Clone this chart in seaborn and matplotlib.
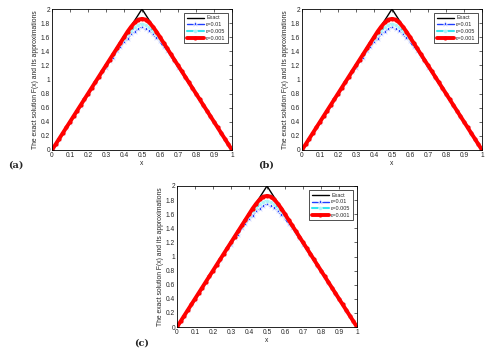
from typing import List

import matplotlib
matplotlib.use("Agg")
import matplotlib.pyplot as plt
import seaborn as sns
from matplotlib.ticker import FuncFormatter, MultipleLocator
from pandas import DataFrame

##########
## Data ##
##########

x_exact = [0.0, 0.5, 1.0]
f_exact = [0.0, 2.0, 0.0]

x_grid = [0.00, 0.02, 0.04, 0.06, 0.08, 0.10, 0.12, 0.14, 0.16, 0.18,
          0.20, 0.22, 0.24, 0.26, 0.28, 0.30, 0.32, 0.34, 0.36, 0.38,
          0.40, 0.42, 0.44, 0.46, 0.48, 0.50, 0.52, 0.54, 0.56, 0.58,
          0.60, 0.62, 0.64, 0.66, 0.68, 0.70, 0.72, 0.74, 0.76, 0.78,
          0.80, 0.82, 0.84, 0.86, 0.88, 0.90, 0.92, 0.94, 0.96, 0.98, 1.00]

f_eps_01 = [0.00, 0.08, 0.15, 0.24, 0.31, 0.39, 0.48, 0.55, 0.63, 0.72,
            0.79, 0.88, 0.95, 1.03, 1.11, 1.17, 1.26, 1.31, 1.40, 1.46,
            1.53, 1.58, 1.64, 1.68, 1.72, 1.74, 1.71, 1.69, 1.64, 1.59,
            1.54, 1.46, 1.41, 1.33, 1.26, 1.17, 1.10, 1.02, 0.95, 0.87,
            0.79, 0.71, 0.63, 0.55, 0.47, 0.40, 0.32, 0.23, 0.16, 0.08, 0.00]

f_eps_005 = [0.00, 0.08, 0.16, 0.24, 0.32, 0.40, 0.48, 0.56, 0.64, 0.72,
             0.80, 0.88, 0.96, 1.04, 1.12, 1.19, 1.27, 1.35, 1.43, 1.51,
             1.58, 1.64, 1.69, 1.74, 1.77, 1.79, 1.77, 1.74, 1.69, 1.64,
             1.58, 1.51, 1.43, 1.35, 1.27, 1.19, 1.12, 1.04, 0.96, 0.88,
             0.80, 0.72, 0.64, 0.56, 0.48, 0.40, 0.32, 0.24, 0.16, 0.08, 0.00]

f_eps_001 = [0.00, 0.08, 0.16, 0.24, 0.32, 0.40, 0.48, 0.56, 0.64, 0.72,
             0.80, 0.88, 0.96, 1.04, 1.12, 1.20, 1.28, 1.36, 1.44, 1.52,
             1.60, 1.68, 1.75, 1.81, 1.85, 1.86, 1.85, 1.81, 1.75, 1.68,
             1.60, 1.52, 1.44, 1.36, 1.28, 1.20, 1.12, 1.04, 0.96, 0.88,
             0.80, 0.72, 0.64, 0.56, 0.48, 0.40, 0.32, 0.24, 0.16, 0.08, 0.00]

series_labels = ["Exact", "\u03b5=0.01", "\u03b5=0.005", "\u03b5=0.001"]
panel_labels = ["(a)", "(b)", "(c)"]

#############
## Drawing ##
#############

sns.set_style("white")
plt.rcParams["font.family"] = ["Liberation Sans", "DejaVu Sans"]

W, H = 493, 355


def draw_panel(ax, labels: List[str]):
    exact_df = DataFrame({"x": x_exact, "F": f_exact})
    approx_df = DataFrame({"x": x_grid, "e01": f_eps_01,
                           "e005": f_eps_005, "e001": f_eps_001})

    sns.lineplot(data=exact_df, x="x", y="F", ax=ax, color="black",
                 lw=1.0, label=labels[0])
    sns.lineplot(data=approx_df, x="x", y="e01", ax=ax, color="#1f3fff",
                 lw=1.0, marker="*", markersize=4.2, markeredgewidth=0.5,
                 label=labels[1])
    sns.lineplot(data=approx_df, x="x", y="e005", ax=ax, color="#33e6f2",
                 lw=1.5, marker="o", markersize=2.8, markeredgewidth=0.3,
                 markerfacecolor="#aaf5f8", label=labels[2])
    sns.lineplot(data=approx_df, x="x", y="e001", ax=ax, color="#ff0000",
                 lw=2.8, marker="o", markersize=3.0, markeredgewidth=0,
                 label=labels[3])

    ax.set_xlim(0, 1)
    ax.set_ylim(0, 2)
    ax.xaxis.set_major_locator(MultipleLocator(0.1))
    ax.yaxis.set_major_locator(MultipleLocator(0.2))
    fmt = FuncFormatter(lambda v, _: f"{v:g}")
    ax.xaxis.set_major_formatter(fmt)
    ax.yaxis.set_major_formatter(fmt)
    ax.tick_params(direction="in", length=2, width=0.5, labelsize=4.8,
                   pad=1.5, top=True, right=True)
    ax.set_xlabel("x", fontsize=4.8, labelpad=1)
    ax.set_ylabel("The exact solution F(x) and its approximations",
                  fontsize=4.9, labelpad=1)
    for s in ax.spines.values():
        s.set_linewidth(0.6)
        s.set_color("black")

    leg = ax.legend(loc="upper right", fontsize=3.9, frameon=True,
                    fancybox=False, edgecolor="black", handlelength=3.2,
                    borderpad=0.4, labelspacing=0.35, handletextpad=0.4,
                    borderaxespad=0.8)
    leg.get_frame().set_linewidth(0.6)


fig = plt.figure(figsize=(W / 100, H / 100), dpi=100)

# axes boxes in pixels: left, top, right, bottom
boxes = [(52, 9, 232, 150), (302, 9, 482, 150), (177, 186, 357, 327)]
label_pos = [(8, 165), (258, 165), (134, 343)]

for (l, t, r, b), (lx, ly), tag in zip(boxes, label_pos, panel_labels):
    ax = fig.add_axes([l / W, 1 - b / H, (r - l) / W, (b - t) / H])
    draw_panel(ax, series_labels)
    fig.text(lx / W, 1 - ly / H, tag, fontsize=7, fontweight="bold",
             family="DejaVu Serif", va="center", ha="left")

fig.savefig("out.png", dpi=100)
